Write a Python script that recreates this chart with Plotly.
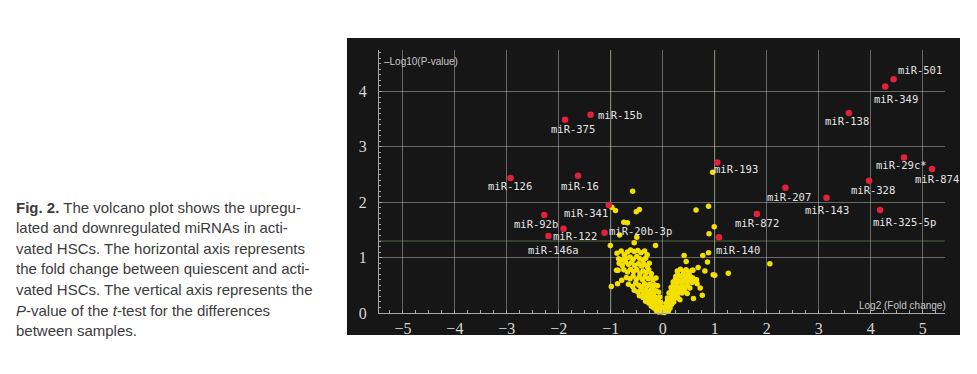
import plotly.graph_objects as go

# ---------------- data ----------------
red_labels = ["miR-15b", "miR-375", "miR-126", "miR-16", "miR-341", "miR-92b",
              "miR-122", "miR-146a", "miR-20b-3p", "miR-501", "miR-349", "miR-138",
              "miR-193", "miR-29c*", "miR-874", "miR-328", "miR-207", "miR-143",
              "miR-325-5p", "miR-872", "miR-140"]
red_x = [-1.39, -1.88, -2.93, -1.63, -1.04, -2.28, -1.91, -2.20, -1.12, 4.44, 4.28, 3.58,
         1.05, 4.64, 5.18, 3.97, 2.36, 3.15, 4.18, 1.81, 1.08]
red_y = [3.58, 3.49, 2.44, 2.48, 1.95, 1.77, 1.52, 1.39, 1.45, 4.22, 4.09, 3.61,
         2.72, 2.81, 2.60, 2.39, 2.26, 2.08, 1.86, 1.79, 1.37]

# non-significant miRNAs (yellow)
yellow_x = [
    # scattered, left side
    -0.58, -0.98, -0.91, -0.45, -0.51, -0.75, -0.68, -0.83, -0.50, -0.55, -1.01, -0.14,
    -0.89, -0.99, -0.87, -0.79,
    # scattered, right side
    0.64, 0.88, 0.99, 0.89, 0.96, 0.88, 0.77, 0.41, 0.45, 0.86, 0.68, 0.58, 1.26, 0.97,
    1.00, 2.06, 0.81, 0.72, 0.76, 0.59, 0.65, 0.66,
    # left arm
    -0.88, -0.80, -0.74, -0.68, -0.62, -0.55, -0.48, -0.42, -0.35, -0.30,
    -0.85, -0.77, -0.70, -0.63, -0.57, -0.50, -0.44, -0.38, -0.33,
    -0.84, -0.78, -0.72, -0.66, -0.60, -0.54, -0.47, -0.41, -0.36, -0.30, -0.26,
    -0.86, -0.75, -0.68, -0.62, -0.56, -0.50, -0.44, -0.38, -0.32, -0.27, -0.22,
    -0.70, -0.63, -0.57, -0.51, -0.45, -0.39, -0.34, -0.28, -0.23, -0.19, -0.13,
    -0.66, -0.58, -0.52, -0.46, -0.40, -0.35, -0.30, -0.25, -0.20, -0.16, -0.10,
    -0.55, -0.48, -0.42, -0.37, -0.32, -0.27, -0.22, -0.18, -0.14, -0.08,
    -0.45, -0.38, -0.33, -0.28, -0.24, -0.20, -0.16, -0.12, -0.06,
    -0.33, -0.27, -0.23, -0.19, -0.15, -0.11, -0.08, -0.04,
    -0.22, -0.17, -0.13, -0.10, -0.07, -0.04, -0.01,
    -0.12, -0.08, -0.05, -0.02, 0.01, 0.03,
    # right arm
    0.02, 0.05, 0.08, 0.11, 0.14, 0.06,
    0.06, 0.10, 0.13, 0.17, 0.21, 0.09,
    0.09, 0.13, 0.17, 0.21, 0.25, 0.29, 0.33,
    0.12, 0.16, 0.20, 0.24, 0.28, 0.32, 0.37, 0.42, 0.47,
    0.16, 0.20, 0.24, 0.28, 0.33, 0.37, 0.42, 0.47, 0.52,
    0.20, 0.24, 0.28, 0.32, 0.37, 0.41, 0.46, 0.51, 0.56, 0.61,
    0.25, 0.29, 0.33, 0.38, 0.43, 0.48, 0.53, 0.58,
    0.28, 0.34, 0.40, 0.45, 0.51, 0.57,
]
yellow_y = [
    2.20, 1.91, 1.85, 1.87, 1.83, 1.64, 1.63, 1.41, 1.37, 1.27, 1.22, 1.22,
    0.77, 0.48, 0.53, 0.59,
    1.86, 1.93, 1.56, 1.43, 2.54, 1.09, 1.04, 1.04, 0.93, 0.92, 0.82, 0.77, 0.72, 0.69,
    0.68, 0.89, 0.76, 0.45, 0.32, 0.26, 0.60, 0.53,
    1.08, 1.12, 1.05, 1.10, 1.14, 1.11, 1.13, 1.09, 1.12, 1.05,
    0.98, 0.96, 0.99, 1.01, 0.97, 1.02, 0.98, 0.95, 0.99,
    0.90, 0.86, 0.92, 0.88, 0.91, 0.86, 0.89, 0.85, 0.88, 0.84, 0.90,
    0.77, 0.78, 0.74, 0.79, 0.75, 0.78, 0.72, 0.76, 0.73, 0.78, 0.71,
    0.64, 0.62, 0.67, 0.61, 0.65, 0.60, 0.66, 0.62, 0.65, 0.60, 0.63,
    0.52, 0.48, 0.54, 0.50, 0.47, 0.53, 0.49, 0.52, 0.47, 0.51, 0.49,
    0.41, 0.38, 0.42, 0.37, 0.41, 0.38, 0.42, 0.36, 0.40, 0.38,
    0.31, 0.28, 0.32, 0.27, 0.31, 0.26, 0.30, 0.27, 0.29,
    0.21, 0.18, 0.22, 0.17, 0.21, 0.18, 0.22, 0.19,
    0.12, 0.09, 0.13, 0.08, 0.12, 0.07, 0.10,
    0.04, 0.02, 0.05, 0.02, 0.04, 0.01,
    0.06, 0.03, 0.08, 0.04, 0.09, 0.11,
    0.17, 0.15, 0.19, 0.16, 0.20, 0.21,
    0.27, 0.25, 0.29, 0.26, 0.30, 0.27, 0.24,
    0.36, 0.39, 0.35, 0.38, 0.34, 0.39, 0.36, 0.40, 0.35,
    0.46, 0.49, 0.45, 0.48, 0.44, 0.49, 0.46, 0.50, 0.45,
    0.56, 0.60, 0.55, 0.58, 0.54, 0.59, 0.56, 0.60, 0.55, 0.58,
    0.66, 0.70, 0.65, 0.68, 0.64, 0.69, 0.66, 0.63,
    0.76, 0.79, 0.75, 0.78, 0.74, 0.77,
]

x_ticks = [-5, -4, -3, -2, -1, 0, 1, 2, 3, 4, 5]
y_ticks = [0, 1, 2, 3, 4]
fc_cut = 1.0       # |log2 fold change| threshold
p_cut = 1.3        # -log10(0.05)

x_title = "Log2 (Fold change)"
y_title = "–Log10(P-value)"
caption_lines = [
    "<b>Fig. 2.</b> The volcano plot shows the upregu-",
    "lated and downregulated miRNAs in acti-",
    "vated HSCs. The horizontal axis represents",
    "the fold change between quiescent and acti-",
    "vated HSCs. The vertical axis represents the",
    "<i>P</i>-value of the <i>t</i>-test for the differences",
    "between samples.",
]

# label offsets (pixels: right, down) relative to each red point
label_offsets = {
    "miR-15b": (29, 0), "miR-375": (8, 9), "miR-126": (0, 8), "miR-16": (2, 10),
    "miR-341": (-23, 8), "miR-92b": (-8, 9), "miR-122": (11, 7), "miR-146a": (5, 14),
    "miR-20b-3p": (36, -2), "miR-501": (26, -9), "miR-349": (11, 12), "miR-138": (-2, 8),
    "miR-193": (19, 7), "miR-29c*": (-2, 8), "miR-874": (5, 10), "miR-328": (4, 9),
    "miR-207": (4, 9), "miR-143": (0, 12), "miR-325-5p": (24, 12), "miR-872": (0, 9),
    "miR-140": (19, 13),
}

# ---------------- layout geometry ----------------
# the page body has an 8px margin, so the figure is drawn 8px right/down
OFF = 8
PAGE_W, PAGE_H = 977, 374
W, H = PAGE_W - OFF, PAGE_H - OFF
PLOT_X0, PLOT_X1 = 379, 945      # plot area in page pixels
PLOT_Y0, PLOT_Y1 = 50, 313
L, T = PLOT_X0 - OFF, PLOT_Y0 - OFF
R, B = W - (PLOT_X1 - OFF), H - (PLOT_Y1 - OFF)
PW, PH = W - L - R, H - T - B


def pxx(px):
    return (px - OFF - L) / PW


def pxy(py):
    return (H - B - (py - OFF)) / PH


BG = "#161616"
GRID = "rgba(185,185,185,0.5)"
AXC = "#a8a8a8"
GREEN = "#56693f"

fig = go.Figure()

fig.add_trace(go.Scatter(
    x=yellow_x, y=yellow_y, mode="markers",
    marker=dict(color="#f3df00", size=5.5, line=dict(width=0)),
    cliponaxis=False, hoverinfo="x+y", showlegend=False,
))
fig.add_trace(go.Scatter(
    x=red_x, y=red_y, mode="markers", text=red_labels,
    marker=dict(color="#e2213b", size=6.5, line=dict(width=0)),
    cliponaxis=False, hoverinfo="text+x+y", showlegend=False,
))

annotations = []
for lab, xv, yv in zip(red_labels, red_x, red_y):
    dx, dy = label_offsets[lab]
    annotations.append(dict(
        x=xv, y=yv, xref="x", yref="y", text=lab, showarrow=False,
        xanchor="center", yanchor="middle", xshift=dx, yshift=-dy,
        font=dict(family="DejaVu Sans Mono", size=10.5, color="#e4e4e4"),
    ))

annotations.append(dict(
    x=pxx(382), y=pxy(61), xref="paper", yref="paper", text=y_title,
    showarrow=False, xanchor="left", yanchor="middle",
    font=dict(family="Liberation Sans", size=10, color="#c8c8c8"),
))
annotations.append(dict(
    x=pxx(948), y=pxy(305), xref="paper", yref="paper", text=x_title,
    showarrow=False, xanchor="right", yanchor="middle",
    font=dict(family="Liberation Sans", size=10, color="#c8c8c8"),
))

for i, line in enumerate(caption_lines):
    annotations.append(dict(
        x=pxx(14), y=pxy(207 + 20.6 * i), xref="paper", yref="paper", text=line,
        showarrow=False, xanchor="left", yanchor="middle", align="left",
        font=dict(family="Liberation Sans", size=15, color="#3c3c3c"),
    ))

shapes = [
    dict(type="rect", xref="paper", yref="paper", x0=pxx(347), x1=pxx(960),
         y0=pxy(335), y1=pxy(38), fillcolor=BG, line=dict(width=0), layer="below"),
    dict(type="line", xref="x", yref="paper", x0=-fc_cut, x1=-fc_cut, y0=0, y1=1,
         line=dict(color=GREEN, width=1), layer="below"),
    dict(type="line", xref="x", yref="paper", x0=fc_cut, x1=fc_cut, y0=0, y1=1,
         line=dict(color=GREEN, width=1), layer="below"),
    dict(type="line", xref="paper", yref="y", x0=0, x1=1, y0=p_cut, y1=p_cut,
         line=dict(color=GREEN, width=1), layer="below"),
]

fig.update_layout(
    width=W, height=H,
    margin=dict(l=L, r=R, t=T, b=B, pad=0),
    paper_bgcolor="white", plot_bgcolor=BG,
    showlegend=False,
    annotations=annotations, shapes=shapes,
    xaxis=dict(
        range=[-5.46, 5.43], tickmode="array", tickvals=x_ticks,
        showgrid=True, gridcolor=GRID, gridwidth=1, zeroline=False,
        showline=True, linecolor=AXC, linewidth=1,
        ticks="inside", ticklen=3, tickcolor=AXC,
        tickfont=dict(family="Liberation Serif", size=16, color="#d8d8d8"),
        ticklabelstandoff=1,
        minor=dict(tickmode="linear", tick0=0, dtick=0.25, ticks="inside",
                   ticklen=3, tickcolor=AXC, showgrid=False),
    ),
    yaxis=dict(
        range=[0, 4.75], tickmode="array", tickvals=y_ticks,
        showgrid=True, gridcolor=GRID, gridwidth=1, zeroline=False,
        showline=True, linecolor=AXC, linewidth=1,
        ticks="inside", ticklen=3, tickcolor=AXC,
        tickfont=dict(family="Liberation Serif", size=16, color="#d8d8d8"),
        ticklabelstandoff=8,
        minor=dict(tickmode="linear", tick0=0, dtick=0.1, ticks="inside",
                   ticklen=2, tickcolor=AXC, showgrid=False),
    ),
)

fig.write_html("out.html")
